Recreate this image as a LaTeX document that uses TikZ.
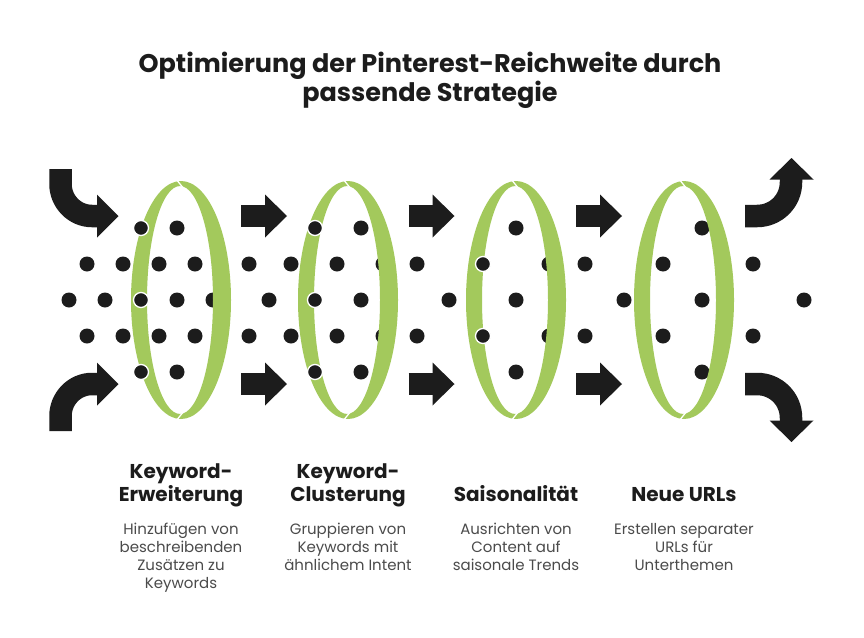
\documentclass[tikz,border=0pt]{standalone}
\usepackage{fontspec}
\setmainfont{Poppins}
\definecolor{dark}{RGB}{28,28,28}
\definecolor{ringgreen}{RGB}{163,201,92}
\definecolor{desc}{RGB}{75,75,75}
\begin{document}
\begin{tikzpicture}[x=1pt,y=-1pt,
  dot/.style={circle,fill=dark,inner sep=0pt,minimum size=15pt},
  fdot/.style={dot,draw=white,line width=1.3pt},
  band/.style={draw=dark,line width=22.5pt,line cap=butt},
  head/.style={fill=dark},
  ttl/.style={font=\bfseries\fontsize{25.5}{30}\selectfont,text=dark,anchor=base},
  lbl/.style={font=\bfseries\fontsize{20}{23}\selectfont,text=dark,anchor=base},
  dsc/.style={font=\fontsize{15}{18}\selectfont,text=desc,anchor=base}]
\useasboundingbox (0,0) rectangle (864,637);
\fill[white] (0,0) rectangle (864,637);
% title
\node[ttl] (t1) at (430,72) {Optimierung der Pinterest-Reichweite durch};
\node[ttl] (t2) at (430,101) {passende Strategie};
% background dots
\foreach \x [count=\i] in {177,361,516,702}{\node[dot] (ra\i) at (\x,228) {};}
\foreach \x [count=\i] in {87,123,159,195,249,291,337,383,417,549,585,663,753}{\node[dot] (rb\i) at (\x,264) {};}
\foreach \x [count=\i] in {69,105,177,213,269,361,449,516,624,702,804}{\node[dot] (rc\i) at (\x,300) {};}
\foreach \x [count=\i] in {87,123,159,195,249,291,337,383,417,549,585,663,753}{\node[dot] (rd\i) at (\x,336) {};}
\foreach \x [count=\i] in {177,361,516,702}{\node[dot] (re\i) at (\x,372) {};}
% rings
\foreach \cx [count=\i] in {181,348,516,684}{
  \fill[ringgreen,even odd rule] (\cx,300) ellipse [x radius=50,y radius=119]
     (\cx-1,300) ellipse [x radius=33,y radius=114];
  \draw[white,line width=1.3pt] (\cx-5,179) -- (\cx+3,189);
  \draw[white,line width=1.3pt] (\cx-5,421) -- (\cx+3,411);
  \coordinate (ring\i) at (\cx,300);
}
% foreground dots
\node[fdot] (f1) at (141,228) {};
\node[fdot] (f2) at (141,300) {};
\node[fdot] (f3) at (141,372) {};
\node[fdot] (f4) at (315,228) {};
\node[fdot] (f5) at (315,300) {};
\node[fdot] (f6) at (315,372) {};
\node[fdot] (f7) at (483,264) {};
\node[fdot] (f8) at (483,336) {};
% left curved arrows
\draw[band] (60.5,169) -- (60.5,184) .. controls (60.5,201.4) and (74.6,216) .. (92,216) -- (98,216);
\fill[head] (97,194.5) -- (118.5,216) -- (97,237.5) -- cycle;
\draw[band] (60.5,431) -- (60.5,416) .. controls (60.5,398.6) and (74.6,384) .. (92,384) -- (98,384);
\fill[head] (97,362.5) -- (118.5,384) -- (97,405.5) -- cycle;
% straight arrows
\foreach \x in {241,408.5,576}{
  \foreach \y in {216,384}{
    \draw[band] (\x,\y) -- (\x+25,\y);
    \fill[head] (\x+24,\y-21.5) -- (\x+46,\y) -- (\x+24,\y+21.5) -- cycle;
  }
}
% right curved arrows
\draw[band] (745,216) -- (757,216) .. controls (775.8,216) and (791,201.2) .. (791,182) -- (791,178.5);
\fill[head] (769.5,179.5) -- (791.5,158) -- (813.5,179.5) -- cycle;
\draw[band] (745,384) -- (757,384) .. controls (775.8,384) and (791,398.8) .. (791,418) -- (791,421.5);
\fill[head] (769.5,420.5) -- (791.5,442) -- (813.5,420.5) -- cycle;
% labels
\node[lbl] (l1a) at (181,478) {Keyword-};
\node[lbl] (l1b) at (181,501) {Erweiterung};
\node[lbl] (l2a) at (348,478) {Keyword-};
\node[lbl] (l2b) at (348,501) {Clusterung};
\node[lbl] (l3) at (516,501) {Saisonalität};
\node[lbl] (l4) at (684,501) {Neue URLs};
% descriptions
\node[dsc] (d1a) at (181,534) {Hinzufügen von};
\node[dsc] (d1b) at (181,552) {beschreibenden};
\node[dsc] (d1c) at (181,570) {Zusätzen zu};
\node[dsc] (d1d) at (181,588) {Keywords};
\node[dsc] (d2a) at (348,534) {Gruppieren von};
\node[dsc] (d2b) at (348,552) {Keywords mit};
\node[dsc] (d2c) at (348,570) {ähnlichem Intent};
\node[dsc] (d3a) at (516,534) {Ausrichten von};
\node[dsc] (d3b) at (516,552) {Content auf};
\node[dsc] (d3c) at (516,570) {saisonale Trends};
\node[dsc] (d4a) at (684,534) {Erstellen separater};
\node[dsc] (d4b) at (684,552) {URLs für};
\node[dsc] (d4c) at (684,570) {Unterthemen};
\end{tikzpicture}
\end{document}
